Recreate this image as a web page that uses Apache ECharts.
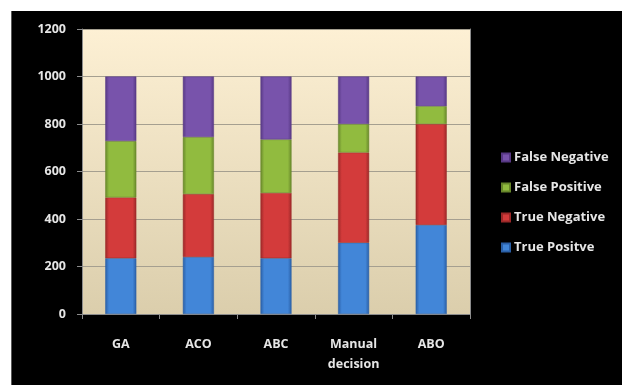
<!DOCTYPE html>
<html>
<head>
<meta charset="utf-8">
<script src="https://cdn.jsdelivr.net/npm/echarts@6/dist/echarts.min.js"></script>
<style>
  html, body { margin: 0; padding: 0; background: #ffffff; }
  #chart { width: 622px; height: 385px; }
</style>
</head>
<body>
<div id="chart"></div>
<script>
// Classification outcomes per method (stacked to 1000 samples)
const categories = ['GA', 'ACO', 'ABC', 'Manual\ndecision', 'ABO'];
const truePositive  = [235, 240, 235, 300, 375];
const trueNegative  = [256, 265, 275, 380, 425];
const falsePositive = [237, 240, 225, 120, 75];
const falseNegative = [272, 255, 265, 200, 125];
const yTicks = { min: 0, max: 1200, step: 200 };

const FONT = '"Open Sans", "DejaVu Sans", sans-serif';
const TEXT = '#e6e6e6';
const AXIS = '#8c8c8c';

// darker rims, lighter middle: a rounded, bar-like shading
function barFill(edge, mid) {
  return new echarts.graphic.LinearGradient(0, 0, 1, 0, [
    { offset: 0, color: edge },
    { offset: 0.12, color: mid },
    { offset: 0.88, color: mid },
    { offset: 1, color: edge }
  ]);
}

const seriesDefs = [
  { name: 'True Positve',   data: truePositive,  edge: '#2a5fa6', mid: '#4286d8' },
  { name: 'True Negative',  data: trueNegative,  edge: '#9b2828', mid: '#d33b3b' },
  { name: 'False Positive', data: falsePositive, edge: '#67862a', mid: '#91bb3f' },
  { name: 'False Negative', data: falseNegative, edge: '#573884', mid: '#7853ab' }
];

const chart = echarts.init(document.getElementById('chart'), null, { renderer: 'canvas' });

chart.setOption({
  animation: false,
  backgroundColor: '#ffffff',
  graphic: [
    { type: 'rect', z: -100, silent: true,
      shape: { x: 11, y: 11, width: 611, height: 374 },
      style: { fill: '#000000' } },
    { type: 'line', z: -99, silent: true,
      shape: { x1: 11.5, y1: 11, x2: 11.5, y2: 385 },
      style: { stroke: '#5a5a5a', lineWidth: 1 } }
  ],
  grid: {
    left: 82, top: 29, right: 152, bottom: 71,
    show: true,
    borderWidth: 0,
    backgroundColor: new echarts.graphic.LinearGradient(0, 0, 0, 1, [
      { offset: 0, color: '#fdf0d4' },
      { offset: 1, color: '#dbceac' }
    ])
  },
  legend: {
    orient: 'vertical',
    left: 496, top: 146,
    itemWidth: 8, itemHeight: 8, itemGap: 17,
    icon: 'rect',
    data: ['False Negative', 'False Positive', 'True Negative', 'True Positve'],
    textStyle: { color: TEXT, fontFamily: FONT, fontWeight: 'bold', fontSize: 13, padding: [0, 0, 0, -1] }
  },
  xAxis: {
    type: 'category',
    data: categories,
    axisLine: { lineStyle: { color: AXIS, width: 1 } },
    axisTick: { show: true, length: 5, lineStyle: { color: AXIS } },
    axisLabel: { color: TEXT, fontFamily: FONT, fontWeight: 'bold', fontSize: 12.5, margin: 20, lineHeight: 20 }
  },
  yAxis: [
    {
      type: 'value', min: yTicks.min, max: yTicks.max, interval: yTicks.step,
      axisLine: { show: true, lineStyle: { color: AXIS, width: 1 } },
      axisTick: { show: true, length: 5, lineStyle: { color: AXIS } },
      axisLabel: { color: TEXT, fontFamily: FONT, fontWeight: 'bold', fontSize: 12.5, margin: 16,
                   formatter: v => String(v) },
      splitLine: { lineStyle: { color: '#a59f90', width: 1 } }
    },
    {
      type: 'value', position: 'right', min: yTicks.min, max: yTicks.max, interval: yTicks.step,
      axisLine: { show: true, lineStyle: { color: AXIS, width: 1 } },
      axisTick: { show: false }, axisLabel: { show: false }, splitLine: { show: false }
    }
  ],
  series: seriesDefs.map(s => ({
    name: s.name,
    type: 'bar',
    stack: 'total',
    barWidth: '40%',
    data: s.data,
    itemStyle: {
      color: barFill(s.edge, s.mid),
      borderColor: s.edge,
      borderWidth: 0.5
    },
    emphasis: { disabled: true }
  }))
});
</script>
</body>
</html>
